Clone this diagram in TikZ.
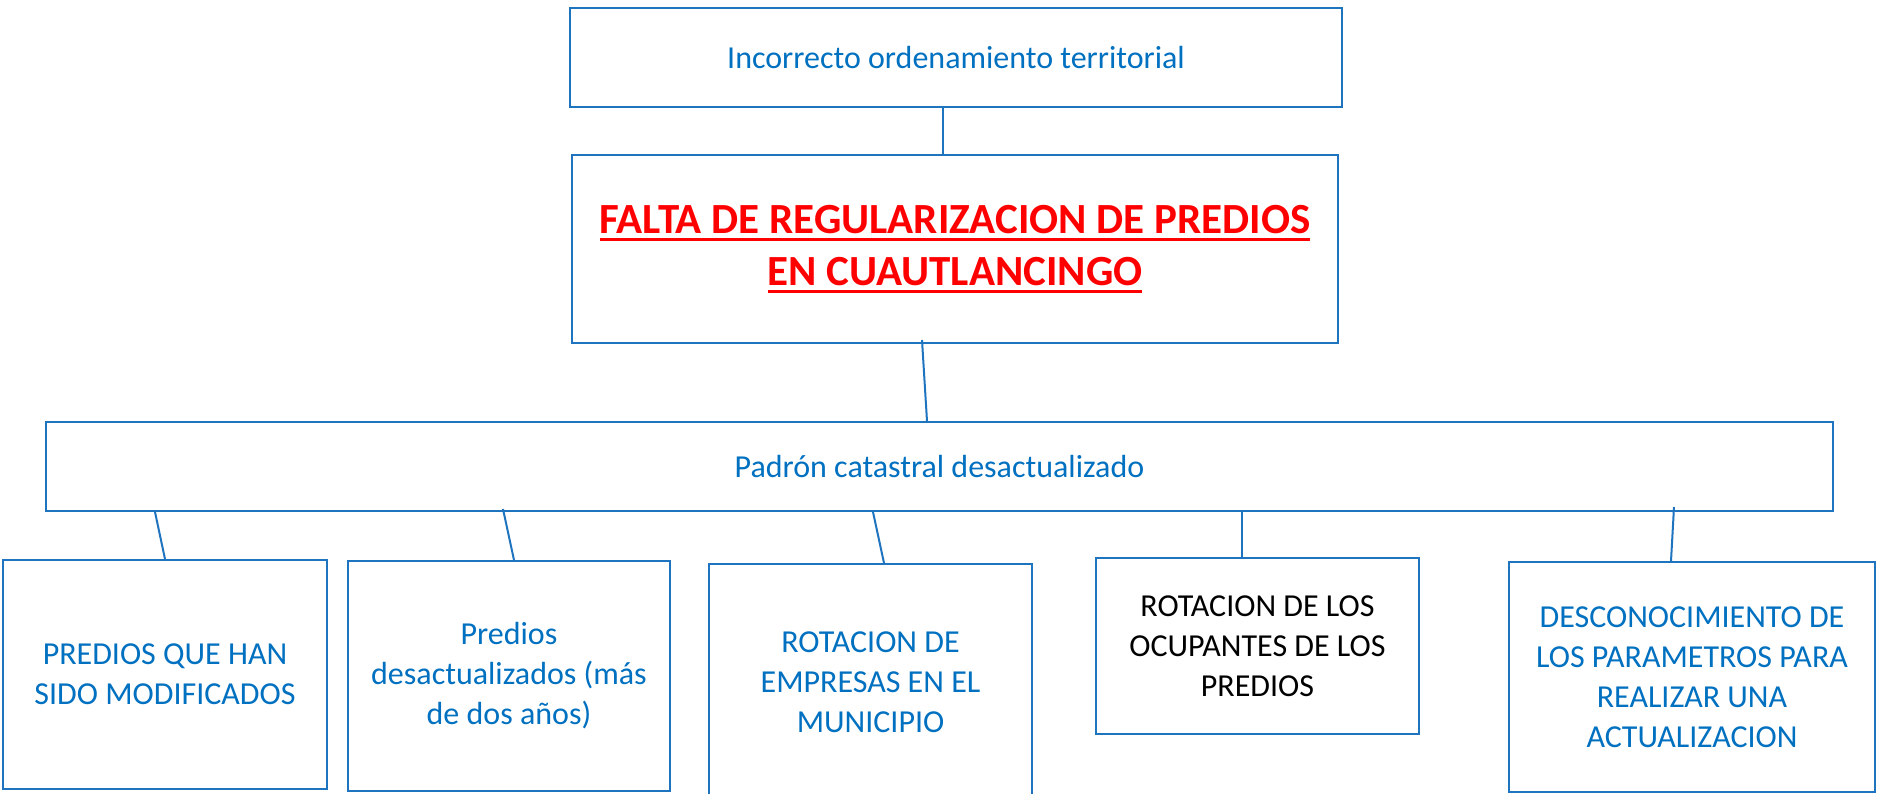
\documentclass[tikz,border=0pt]{standalone}
\usepackage{fontspec}
\setmainfont{Carlito}
\usetikzlibrary{calc}
\definecolor{oblue}{HTML}{0070C0}
\definecolor{lineblue}{HTML}{1F74BF}
\newsavebox\ulbox
\newcommand\redul[1]{\sbox\ulbox{#1}\rlap{\rule[-7.5pt]{\wd\ulbox}{2.7pt}}\usebox\ulbox}
\begin{document}
\begin{tikzpicture}[x=1pt,y=-1pt,
  box/.style={draw=lineblue, line width=2pt, inner sep=0pt, align=center, text=oblue,
    font=\fontsize{32}{40}\selectfont},
  conn/.style={draw=lineblue, line width=2pt}]
\useasboundingbox (0,0) rectangle (1877,793);
\clip (0,0) rectangle (1877,793);
\fill[white] (0,0) rectangle (1877,793);

\node[box, minimum width=772pt, minimum height=99pt] (top) at (956,57.5) {Incorrecto ordenamiento territorial};
\node[box, minimum width=766pt, minimum height=188pt, text=red,
  font=\fontsize{43}{52}\selectfont\bfseries] (falta) at (955,249)
  {\redul{FALTA DE REGULARIZACION DE PREDIOS}\\\redul{EN CUAUTLANCINGO}};
\node[box, minimum width=1787pt, minimum height=89pt] (pad) at (939.5,466.5) {Padrón catastral desactualizado};

\node[box, minimum width=324pt, minimum height=229pt] (b1) at (165,674.5) {PREDIOS QUE HAN\\SIDO MODIFICADOS};
\node[box, minimum width=322pt, minimum height=230pt] (b2) at (509,676) {Predios\\desactualizados (más\\de dos años)};
\node[box, minimum width=323pt, minimum height=236pt] (b3) at (870.5,682) {ROTACION DE\\EMPRESAS EN EL\\MUNICIPIO};
\node[box, minimum width=323pt, minimum height=176pt, text=black] (b4) at (1257.5,646) {ROTACION DE LOS\\OCUPANTES DE LOS\\PREDIOS};
\node[box, minimum width=366pt, minimum height=230pt] (b5) at (1692,677) {DESCONOCIMIENTO DE\\LOS PARAMETROS PARA\\REALIZAR UNA\\ACTUALIZACION};

\draw[conn] ([xshift=-13pt]top.south) -- ([xshift=-12pt]falta.north);
\draw[conn] ([xshift=-33pt,yshift=4pt]falta.south) -- ([xshift=-12.5pt]pad.north);
\draw[conn] ([xshift=-784.5pt]pad.south) -- (b1.north);
\draw[conn] ([xshift=-436.5pt,yshift=3pt]pad.south) -- ([xshift=5pt]b2.north);
\draw[conn] ([xshift=-66.5pt]pad.south) -- ([xshift=13.5pt]b3.north);
\draw[conn] ([xshift=302.5pt]pad.south) -- ([xshift=-15.5pt]b4.north);
\draw[conn] ([xshift=734.5pt,yshift=5pt]pad.south) -- ([xshift=-21pt]b5.north);
\end{tikzpicture}
\end{document}
